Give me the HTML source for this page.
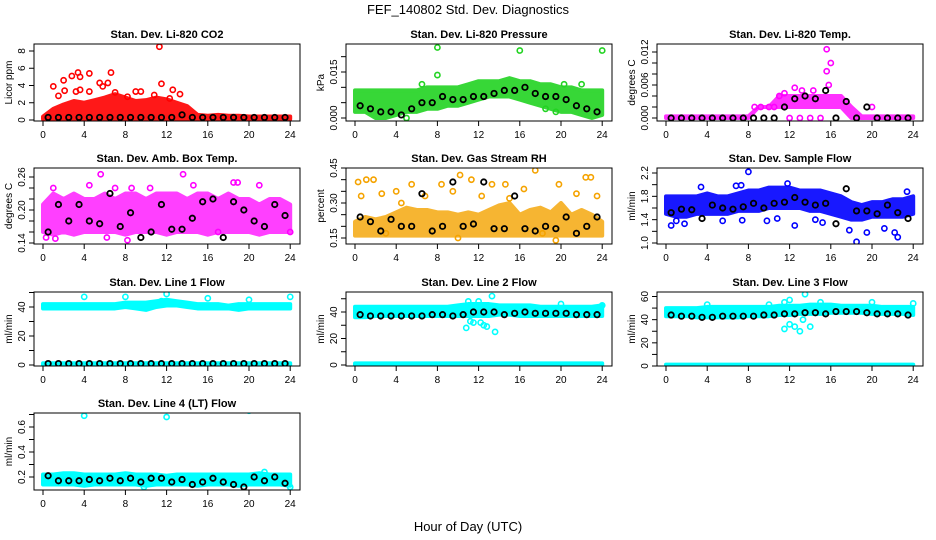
<!DOCTYPE html>
<html><head><meta charset="utf-8"><style>
html,body{margin:0;padding:0;background:#fff}
svg{display:block;font-family:"Liberation Sans",sans-serif}
</style></head><body>
<svg id="c" width="936" height="540" viewBox="0 0 936 540">
<text x="468" y="14" text-anchor="middle" font-size="13">FEF_140802  Std. Dev. Diagnostics</text>
<text x="468" y="531" text-anchor="middle" font-size="13">Hour of Day (UTC)</text>
</svg>
<script>
// ---- data (hourly envelope at h=0..24, outliers, black hourly values at h+0.5) ----
const co2Lo=[0.1,0.1,0.1,0.1,0.1,0.1,0.1,0.1,0.1,0.1,0.1,0.1,0.1,0.1,0.1,0.1,0.1,0.1,0.1,0.1,0.1,0.1,0.1,0.1,0.1];
const co2Hi=[0.4,1.3,1.8,2.2,2.0,2.3,2.6,3.0,2.6,2.2,2.3,2.6,2.4,2.0,1.6,0.6,0.5,0.6,0.5,0.5,0.4,0.4,0.4,0.4,0.4];
const co2OutX=[1,1.5,2,2.1,2.8,3.2,3.4,3.6,3.6,4.5,4.5,5.5,5.8,6.3,6.6,7.0,8.2,9.0,9.5,10.8,11.3,11.5,12.6,13.3,12.3];
const co2OutY=[3.9,2.8,4.6,3.4,5.1,3.3,5.5,5,3.5,5.4,3.3,4.3,3.9,4.3,5.5,3.2,2.7,3.3,3.3,2.9,8.5,4.2,3.5,3.0,2.5];
const co2Black=[0.3,0.3,0.3,0.3,0.3,0.3,0.3,0.3,0.3,0.3,0.3,0.3,0.3,0.6,0.3,0.3,0.3,0.3,0.3,0.3,0.3,0.3,0.3,0.3];

const presLo=[0.002,0.002,0,0,0.001,0.002,0.002,0.003,0.003,0.004,0.004,0.005,0.006,0.007,0.007,0.007,0.006,0.005,0.004,0.003,0.002,0.002,0.001,0,0.001];
const presHi=[0.009,0.009,0.009,0.009,0.009,0.009,0.009,0.010,0.010,0.010,0.010,0.011,0.012,0.012,0.012,0.013,0.012,0.012,0.011,0.011,0.010,0.010,0.009,0.009,0.009];
const presOutX=[8,8,16,24,6.5,20.3,22,5,19.5,18.5];
const presOutY=[0.023,0.014,0.022,0.022,0.011,0.011,0.011,0.000,0.002,0.003];
const presBlack=[0.004,0.003,0.002,0.002,0.001,0.003,0.005,0.005,0.007,0.006,0.006,0.007,0.007,0.008,0.009,0.009,0.010,0.008,0.007,0.007,0.006,0.004,0.003,0.002];

const tempLo=[0,0,0,0,0,0,0,0,0,0.002,0.002,0.002,0.002,0.002,0.002,0.002,0.002,0.002,0,0,0,0,0,0,0];
const tempHi=[0.0003,0.0003,0.0003,0.0003,0.0003,0.0003,0.0003,0.0003,0.0003,0.002,0.002,0.004,0.004,0.004,0.004,0.004,0.004,0.004,0.002,0.0003,0.0003,0.0003,0.0003,0.0003,0.0003];
const tempOutX=[12.5,13.2,14.3,15.6,15.6,16,11,11.5,15.8,20,8.6,9.2,10,10.5,12,13,14,15];
const tempOutY=[0.0055,0.005,0.005,0.0125,0.0085,0.01,0.004,0.0045,0.006,0.002,0.002,0.002,0.002,0.002,0,0,0,0];
const tempBlack=[0,0,0,0,0,0,0,0,0,0,0,0.002,0.0035,0.004,0.0035,0.005,0,0.003,0,0.002,0,0,0,0];

const ambLo=[0.16,0.155,0.16,0.155,0.16,0.16,0.16,0.16,0.155,0.16,0.16,0.16,0.155,0.16,0.16,0.16,0.155,0.16,0.16,0.16,0.16,0.155,0.16,0.16,0.16];
const ambHi=[0.21,0.23,0.22,0.23,0.22,0.22,0.23,0.22,0.23,0.23,0.22,0.23,0.23,0.23,0.22,0.23,0.23,0.22,0.23,0.22,0.22,0.21,0.22,0.22,0.21];
const ambOutX=[1,4.5,5.6,7,8.6,13.6,10.4,14.6,18.5,18.9,21,6.2,8.2,0.3,1.2,17,24];
const ambOutY=[0.24,0.245,0.265,0.24,0.24,0.265,0.24,0.245,0.25,0.25,0.245,0.15,0.145,0.15,0.148,0.16,0.16];
const ambBlack=[0.16,0.21,0.18,0.21,0.18,0.175,0.23,0.17,0.195,0.15,0.16,0.21,0.165,0.165,0.185,0.215,0.22,0.15,0.215,0.2,0.18,0.17,0.21,0.19];

const rhLo=[0.16,0.16,0.16,0.16,0.16,0.16,0.16,0.16,0.16,0.16,0.16,0.16,0.16,0.16,0.16,0.16,0.16,0.16,0.16,0.16,0.16,0.16,0.16,0.16,0.16];
const rhHi=[0.22,0.24,0.23,0.24,0.26,0.28,0.27,0.27,0.26,0.26,0.25,0.26,0.25,0.27,0.29,0.30,0.25,0.27,0.28,0.26,0.30,0.25,0.27,0.25,0.22];
const rhOutX=[0.3,1.1,1.8,0.6,2.6,4,5.5,6.8,8.4,9.5,10.2,11.3,12.3,13.3,14.6,16.4,17.5,19.8,21.5,22.4,22.9,23.5,18.2,19.5,3,10,4.5,15];
const rhOutY=[0.39,0.4,0.4,0.33,0.34,0.35,0.38,0.33,0.38,0.35,0.42,0.4,0.33,0.38,0.38,0.36,0.44,0.38,0.34,0.41,0.41,0.33,0.17,0.14,0.17,0.15,0.3,0.32];
const rhBlack=[0.24,0.22,0.18,0.23,0.2,0.2,0.34,0.18,0.2,0.39,0.2,0.21,0.39,0.19,0.19,0.33,0.19,0.18,0.2,0.19,0.24,0.17,0.2,0.24];

const sfLo=[1.5,1.45,1.45,1.5,1.5,1.5,1.5,1.55,1.55,1.55,1.6,1.6,1.6,1.6,1.55,1.55,1.5,1.45,1.4,1.4,1.45,1.45,1.45,1.45,1.5];
const sfHi=[1.8,1.8,1.8,1.8,1.85,1.8,1.8,1.85,1.9,1.9,1.95,1.95,1.95,1.9,1.9,1.9,1.85,1.8,1.7,1.65,1.7,1.7,1.75,1.75,1.8];
const sfOutX=[0.5,1,1.8,3.4,5.5,6.8,7.3,8,7.4,10.8,9.8,12.5,14.5,17.8,18.5,19.5,21.2,22.2,22.5,11.8,15.2,23.4];
const sfOutY=[1.3,1.38,1.33,1.96,1.38,1.98,1.99,2.22,1.39,1.42,1.38,1.3,1.4,1.22,1.02,1.18,1.25,1.18,1.1,2.02,1.35,1.88];
const sfBlack=[1.52,1.58,1.57,1.42,1.65,1.6,1.58,1.62,1.68,1.6,1.68,1.7,1.78,1.7,1.65,1.68,1.33,1.93,1.55,1.55,1.5,1.65,1.52,1.42];

const l1Lo=[39,39,39,39,39,39,39,39,40,39,38,40,41,41,40,39,39,39,39,38,39,39,39,39,39];
const l1Hi=[42,42,42,42,42,42,42,42,43,43,43,44,45,44,43,42,42,42,41,42,42,42,42,42,42];
const l1OutX=[4,8,12,16,20,24,11.5];
const l1OutY=[47,47,49,46,45,47,44];
const l1Black=[1,1,1,1,1,1,1,1,1,1,1,1,1,1,1,1,1,1,1,1,1,1,1,1];

const l2Lo=[36,36,37,37,37,37,37,37,37,37,37,37,37,37,38,38,37,37,37,37,37,37,37,37,37];
const l2Hi=[44,44,44,44,44,44,44,44,44,44,45,46,46,46,45,45,45,45,44,44,44,44,44,44,45];
const l2OutX=[10.8,11.2,11.5,12.2,12.5,12.8,13.3,13.6,11,12,20,24];
const l2OutY=[28,33,32,32,30,29,52,25,48,48,46,45];
const l2Black=[38,37,37,37,37,37,37,38,38,37,38,40,40,40,38,39,40,39,39,39,39,38,38,38];

const l3Lo=[43,43,43,42,42,42,42,42,43,43,43,44,44,45,45,45,46,46,46,46,45,45,45,45,44];
const l3Hi=[50,50,50,50,51,51,51,51,51,51,51,52,52,52,53,53,53,52,52,52,52,51,51,51,51];
const l3OutX=[4,10,11.5,12,12.5,13,13.3,14,13.5,12,15,20,24,11.5];
const l3OutY=[53,53,32,36,34,30,40,34,62,57,55,55,54,55];
const l3Black=[44,43,43,42,42,43,43,43,43,44,44,45,45,46,46,45,47,47,47,46,45,45,45,44];

const l4Lo=[0.14,0.14,0.14,0.14,0.13,0.14,0.14,0.14,0.14,0.14,0.13,0.14,0.14,0.14,0.14,0.13,0.14,0.14,0.14,0.13,0.14,0.14,0.14,0.14,0.13];
const l4Hi=[0.22,0.22,0.23,0.23,0.22,0.22,0.22,0.22,0.23,0.22,0.22,0.22,0.21,0.22,0.22,0.22,0.22,0.22,0.22,0.22,0.22,0.23,0.22,0.22,0.22];
const l4OutX=[4,12,20,21.5,24,9.8];
const l4OutY=[0.69,0.68,0.73,0.24,0.12,0.12];
const l4Black=[0.21,0.17,0.17,0.17,0.18,0.17,0.19,0.17,0.19,0.16,0.19,0.19,0.16,0.18,0.14,0.16,0.19,0.16,0.14,0.12,0.2,0.17,0.2,0.15];

const zeroLo=[0,0,0,0,0,0,0,0,0,0,0,0,0,0,0,0,0,0,0,0,0,0,0,0,0];
const zeroHi=[1.2,1.2,1.2,1.2,1.2,1.2,1.2,1.2,1.2,1.2,1.2,1.2,1.2,1.2,1.2,1.2,1.2,1.2,1.2,1.2,1.2,1.2,1.2,1.2,1.2];
const xTicks=[0,4,8,12,16,20,24];

// ---- layout ----
const NS="http://www.w3.org/2000/svg";
const svg=document.getElementById('c');
const colL=[34,346,657], rowT=[44,168,292,413], W=266, H=[77,76,74,77];
function mk(tag,attrs,parent){const e=document.createElementNS(NS,tag);for(const k in attrs)e.setAttribute(k,attrs[k]);(parent||svg).appendChild(e);return e;}

const panels=[
 {id:'co2',c:0,r:0,title:'Stan. Dev. Li-820 CO2',yl:'Licor ppm',cal:[0,120,8,51],ticks:[0,2,4,6,8],labs:['0','2','4','6','8'],color:'#ff0000',op:0.9,bands:[[co2Lo,co2Hi]],ox:co2OutX,oy:co2OutY,blk:co2Black},
 {id:'pressure',c:1,r:0,title:'Stan. Dev. Li-820 Pressure',yl:'kPa',cal:[0,118,0.015,72],ticks:[0,0.005,0.01,0.015,0.02],labs:['0.000','','','0.015',''],color:'#22d322',op:0.9,bands:[[presLo,presHi]],ox:presOutX,oy:presOutY,blk:presBlack},
 {id:'temp',c:2,r:0,title:'Stan. Dev. Li-820 Temp.',yl:'degrees C',cal:[0,118,0.012,52],ticks:[0,0.002,0.004,0.006,0.008,0.01,0.012],labs:['0.000','','','0.006','','','0.012'],color:'#ff00ff',op:0.8,bands:[[tempLo,tempHi]],ox:tempOutX,oy:tempOutY,blk:tempBlack},
 {id:'amb-box',c:0,r:1,title:'Stan. Dev. Amb. Box Temp.',yl:'degrees C',cal:[0.14,243,0.26,177],ticks:[0.14,0.16,0.18,0.2,0.22,0.24,0.26],labs:['0.14','','','0.20','','','0.26'],color:'#ff00ff',op:0.75,bands:[[ambLo,ambHi]],ox:ambOutX,oy:ambOutY,blk:ambBlack},
 {id:'gas-rh',c:1,r:1,title:'Stan. Dev. Gas Stream RH',yl:'percent',cal:[0.15,238,0.45,168],ticks:[0.15,0.2,0.25,0.3,0.35,0.4,0.45],labs:['0.15','','','0.30','','','0.45'],color:'#f5a300',op:0.8,bands:[[rhLo,rhHi]],ox:rhOutX,oy:rhOutY,blk:rhBlack},
 {id:'sample-flow',c:2,r:1,title:'Stan. Dev. Sample Flow',yl:'ml/min',cal:[1.0,243,2.2,173],ticks:[1.0,1.2,1.4,1.6,1.8,2.0,2.2],labs:['1.0','','1.4','','1.8','','2.2'],color:'#0000ff',op:0.9,bands:[[sfLo,sfHi]],ox:sfOutX,oy:sfOutY,blk:sfBlack},
 {id:'line1',c:0,r:2,title:'Stan. Dev. Line 1 Flow',yl:'ml/min',cal:[0,365,40,307],ticks:[0,10,20,30,40,50],labs:['0','','20','','40',''],color:'#00ffff',op:1,bands:[[l1Lo,l1Hi],[zeroLo,zeroHi]],ox:l1OutX,oy:l1OutY,blk:l1Black},
 {id:'line2',c:1,r:2,title:'Stan. Dev. Line 2 Flow',yl:'ml/min',cal:[0,365,40,312],ticks:[0,10,20,30,40,50],labs:['0','','20','','40',''],color:'#00ffff',op:1,bands:[[l2Lo,l2Hi],[zeroLo,zeroHi]],ox:l2OutX,oy:l2OutY,blk:l2Black},
 {id:'line3',c:2,r:2,title:'Stan. Dev. Line 3 Flow',yl:'ml/min',cal:[0,366,60,296.5],ticks:[0,10,20,30,40,50,60],labs:['0','','20','','40','','60'],color:'#00ffff',op:1,bands:[[l3Lo,l3Hi],[zeroLo,zeroHi]],ox:l3OutX,oy:l3OutY,blk:l3Black},
 {id:'line4',c:0,r:3,title:'Stan. Dev. Line 4 (LT) Flow',yl:'ml/min',cal:[0.2,477,0.6,427],ticks:[0.2,0.3,0.4,0.5,0.6,0.7],labs:['0.2','','0.4','','0.6',''],color:'#00ffff',op:1,bands:[[l4Lo,l4Hi]],ox:l4OutX,oy:l4OutY,blk:l4Black}
];

panels.forEach(p=>{
  const L=colL[p.c], T=rowT[p.r], B=T+H[p.r];
  const xs=h=>L+9+h*10.3;
  const [v0,p0,v1,p1]=p.cal; const k=(p0-p1)/(v1-v0);
  const ys=v=>p0-(v-v0)*k;
  const g=mk('g',{});
  
  
  const ti=mk('text',{x:L+W/2,y:T-6,'text-anchor':'middle','font-size':11,'font-weight':'bold'},g);
  ti.textContent=p.title;
  
  
  const cp=mk('clipPath',{id:'cp'+p.id},g); mk('rect',{x:L,y:T,width:W,height:B-T},cp);
  const plot=mk('g',{'clip-path':'url(#cp'+p.id+')'},g);
  p.bands.forEach(([lo,hi])=>{
    let pts=[];
    for(let i=0;i<hi.length;i++)pts.push(xs(i)+','+ys(hi[i]));
    for(let i=lo.length-1;i>=0;i--)pts.push(xs(i)+','+ys(lo[i]));
    const b=mk('polygon',{points:pts.join(' '),fill:p.color,stroke:p.color,'stroke-width':4,'stroke-linejoin':'round',opacity:p.op},plot);
    
    
  });
  p.ox.forEach((x,i)=>{
    const c=mk('circle',{cx:xs(x),cy:ys(p.oy[i]),r:2.6,fill:'none',stroke:p.color,'stroke-width':1.6},plot);
    
    
  });
  p.blk.forEach((v,i)=>{
    const c=mk('circle',{cx:xs(i+0.5),cy:ys(v),r:2.7,fill:'none',stroke:'#000','stroke-width':1.8},plot);
    
    
  });
  const fr=mk('rect',{x:L,y:T,width:W,height:B-T,fill:'none',stroke:'#000','stroke-width':1},g);
  
  
  xTicks.forEach(t=>{
    mk('line',{x1:xs(t),x2:xs(t),y1:B,y2:B+5,stroke:'#000'},g);
    const tx=mk('text',{x:xs(t),y:B+17,'text-anchor':'middle','font-size':10},g);
    tx.textContent=t;
    
    
  });
  mk('line',{x1:xs(0),x2:xs(24),y1:B,y2:B,stroke:'#000'},g);
  p.ticks.forEach((t,i)=>{
    const y=ys(t);
    mk('line',{x1:L-5,x2:L,y1:y,y2:y,stroke:'#000'},g);
    if(p.labs[i]){
      const tx=mk('text',{x:0,y:0,'text-anchor':'middle','font-size':10,transform:'translate('+(L-9)+','+y+') rotate(-90)'},g);
      tx.textContent=p.labs[i];
      
      
    }
  });
  const yl=mk('text',{x:0,y:0,'text-anchor':'middle','font-size':10,transform:'translate('+(L-22)+','+(T+(B-T)/2)+') rotate(-90)'},g);
  yl.textContent=p.yl;
  
  
});
</script>
</body></html>
